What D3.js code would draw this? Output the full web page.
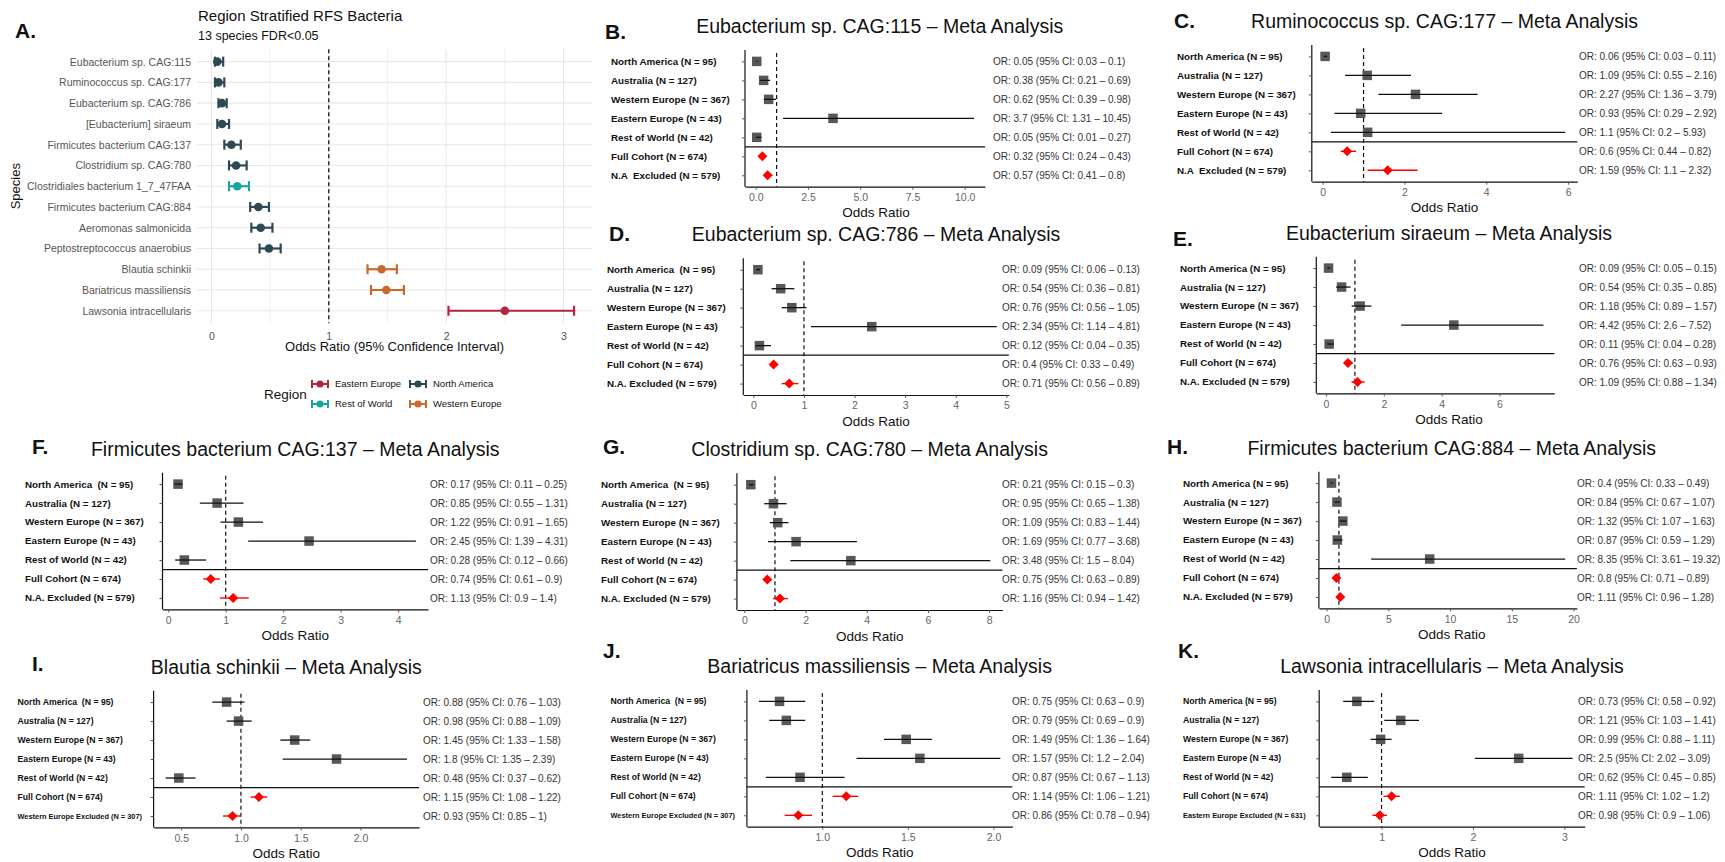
<!DOCTYPE html>
<html>
<head>
<meta charset="utf-8">
<script src="https://cdn.jsdelivr.net/npm/d3@7"></script>
<style>
body { margin: 0; background: #fff; }
svg { display: block; font-family: "Liberation Sans", Arial, sans-serif; }
.letter { font-weight: bold; font-size: 21px; fill: #111; }
.rowlab { font-weight: bold; fill: #111; white-space: pre; }
.ortxt { font-size: 10px; fill: #333; white-space: pre; }
</style>
</head>
<body>
<svg id="fig" width="1725" height="862"></svg>
<script>
// ---------- panel A data ----------
var speciesA = ["Eubacterium sp. CAG:115", "Ruminococcus sp. CAG:177", "Eubacterium sp. CAG:786",
  "[Eubacterium] siraeum", "Firmicutes bacterium CAG:137", "Clostridium sp. CAG:780",
  "Clostridiales bacterium 1_7_47FAA", "Firmicutes bacterium CAG:884", "Aeromonas salmonicida",
  "Peptostreptococcus anaerobius", "Blautia schinkii", "Bariatricus massiliensis", "Lawsonia intracellularis"];
var regionA = ["North America", "North America", "North America", "North America", "North America",
  "North America", "Rest of World", "North America", "North America", "North America",
  "Western Europe", "Western Europe", "Eastern Europe"];
var orA = [0.05, 0.06, 0.09, 0.09, 0.17, 0.21, 0.22, 0.40, 0.42, 0.49, 1.45, 1.49, 2.5];
var loA = [0.03, 0.03, 0.06, 0.05, 0.11, 0.15, 0.15, 0.33, 0.34, 0.41, 1.33, 1.36, 2.02];
var hiA = [0.10, 0.11, 0.13, 0.15, 0.25, 0.30, 0.32, 0.49, 0.52, 0.59, 1.58, 1.64, 3.09];
var ticksA = [0, 1, 2, 3];
var legendRegions = ["Eastern Europe", "North America", "Rest of World", "Western Europe"];

// region colours
var regionColours = {"Eastern Europe": "#b2243f", "North America": "#2d4953",
  "Rest of World": "#17a59e", "Western Europe": "#c8692d"};

// ---------- meta analysis panels ----------
var titleB = "Eubacterium sp. CAG:115 \u2013 Meta Analysis";
var rowsB = ["North America (N = 95)", "Australia (N = 127)", "Western Europe (N = 367)", "Eastern Europe (N = 43)",
  "Rest of World (N = 42)", "Full Cohort (N = 674)", "N.A  Excluded (N = 579)"];
var orB = [0.05, 0.38, 0.62, 3.7, 0.05, 0.32, 0.57];
var loB = [0.03, 0.21, 0.39, 1.31, 0.01, 0.24, 0.41];
var hiB = [0.1, 0.69, 0.98, 10.45, 0.27, 0.43, 0.8];
var ticksB = [0, 2.5, 5, 7.5, 10];

var titleC = "Ruminococcus sp. CAG:177 \u2013 Meta Analysis";
var rowsC = ["North America (N = 95)", "Australia (N = 127)", "Western Europe (N = 367)", "Eastern Europe (N = 43)",
  "Rest of World (N = 42)", "Full Cohort (N = 674)", "N.A  Excluded (N = 579)"];
var orC = [0.06, 1.09, 2.27, 0.93, 1.1, 0.6, 1.59];
var loC = [0.03, 0.55, 1.36, 0.29, 0.2, 0.44, 1.1];
var hiC = [0.11, 2.16, 3.79, 2.92, 5.93, 0.82, 2.32];
var ticksC = [0, 2, 4, 6];

var titleD = "Eubacterium sp. CAG:786 \u2013 Meta Analysis";
var rowsD = ["North America  (N = 95)", "Australia (N = 127)", "Western Europe (N = 367)", "Eastern Europe (N = 43)",
  "Rest of World (N = 42)", "Full Cohort (N = 674)", "N.A. Excluded (N = 579)"];
var orD = [0.09, 0.54, 0.76, 2.34, 0.12, 0.4, 0.71];
var loD = [0.06, 0.36, 0.56, 1.14, 0.04, 0.33, 0.56];
var hiD = [0.13, 0.81, 1.05, 4.81, 0.35, 0.49, 0.89];
var ticksD = [0, 1, 2, 3, 4, 5];

var titleE = "Eubacterium siraeum \u2013 Meta Analysis";
var rowsE = ["North America (N = 95)", "Australia (N = 127)", "Western Europe (N = 367)", "Eastern Europe (N = 43)",
  "Rest of World (N = 42)", "Full Cohort (N = 674)", "N.A. Excluded (N = 579)"];
var orE = [0.09, 0.54, 1.18, 4.42, 0.11, 0.76, 1.09];
var loE = [0.05, 0.35, 0.89, 2.6, 0.04, 0.63, 0.88];
var hiE = [0.15, 0.85, 1.57, 7.52, 0.28, 0.93, 1.34];
var ticksE = [0, 2, 4, 6];

var titleF = "Firmicutes bacterium CAG:137 \u2013 Meta Analysis";
var rowsF = ["North America  (N = 95)", "Australia (N = 127)", "Western Europe (N = 367)", "Eastern Europe (N = 43)",
  "Rest of World (N = 42)", "Full Cohort (N = 674)", "N.A. Excluded (N = 579)"];
var orF = [0.17, 0.85, 1.22, 2.45, 0.28, 0.74, 1.13];
var loF = [0.11, 0.55, 0.91, 1.39, 0.12, 0.61, 0.9];
var hiF = [0.25, 1.31, 1.65, 4.31, 0.66, 0.9, 1.4];
var ticksF = [0, 1, 2, 3, 4];

var titleG = "Clostridium sp. CAG:780 \u2013 Meta Analysis";
var rowsG = ["North America  (N = 95)", "Australia (N = 127)", "Western Europe (N = 367)", "Eastern Europe (N = 43)",
  "Rest of World (N = 42)", "Full Cohort (N = 674)", "N.A. Excluded (N = 579)"];
var orG = [0.21, 0.95, 1.09, 1.69, 3.48, 0.75, 1.16];
var loG = [0.15, 0.65, 0.83, 0.77, 1.5, 0.63, 0.94];
var hiG = [0.3, 1.38, 1.44, 3.68, 8.04, 0.89, 1.42];
var ticksG = [0, 2, 4, 6, 8];

var titleH = "Firmicutes bacterium CAG:884 \u2013 Meta Analysis";
var rowsH = ["North America (N = 95)", "Australia (N = 127)", "Western Europe (N = 367)", "Eastern Europe (N = 43)",
  "Rest of World (N = 42)", "Full Cohort (N = 674)", "N.A. Excluded (N = 579)"];
var orH = [0.4, 0.84, 1.32, 0.87, 8.35, 0.8, 1.11];
var loH = [0.33, 0.67, 1.07, 0.59, 3.61, 0.71, 0.96];
var hiH = [0.49, 1.07, 1.63, 1.29, 19.32, 0.89, 1.28];
var ticksH = [0, 5, 10, 15, 20];

var titleI = "Blautia schinkii \u2013 Meta Analysis";
var rowsI = ["North America  (N = 95)", "Australia (N = 127)", "Western Europe (N = 367)", "Eastern Europe (N = 43)",
  "Rest of World (N = 42)", "Full Cohort (N = 674)", "Western Europe Excluded (N = 307)"];
var orI = [0.88, 0.98, 1.45, 1.8, 0.48, 1.15, 0.93];
var loI = [0.76, 0.88, 1.33, 1.35, 0.37, 1.08, 0.85];
var hiI = [1.03, 1.09, 1.58, 2.39, 0.62, 1.22, 1];
var ticksI = [0.5, 1, 1.5, 2];

var titleJ = "Bariatricus massiliensis \u2013 Meta Analysis";
var rowsJ = ["North America  (N = 95)", "Australia (N = 127)", "Western Europe (N = 367)", "Eastern Europe (N = 43)",
  "Rest of World (N = 42)", "Full Cohort (N = 674)", "Western Europe Excluded (N = 307)"];
var orJ = [0.75, 0.79, 1.49, 1.57, 0.87, 1.14, 0.86];
var loJ = [0.63, 0.69, 1.36, 1.2, 0.67, 1.06, 0.78];
var hiJ = [0.9, 0.9, 1.64, 2.04, 1.13, 1.21, 0.94];
var ticksJ = [1, 1.5, 2];

var titleK = "Lawsonia intracellularis \u2013 Meta Analysis";
var rowsK = ["North America (N = 95)", "Australia (N = 127)", "Western Europe (N = 367)", "Eastern Europe (N = 43)",
  "Rest of World (N = 42)", "Full Cohort (N = 674)", "Eastern Europe Excluded (N = 631)"];
var orK = [0.73, 1.21, 0.99, 2.5, 0.62, 1.11, 0.98];
var loK = [0.58, 1.03, 0.88, 2.02, 0.45, 1.02, 0.9];
var hiK = [0.92, 1.41, 1.11, 3.09, 0.85, 1.2, 1.06];
var ticksK = [1, 2, 3];

// layout of every meta panel (positions in px)
var panels = [
  {id: "B", title: titleB, rows: rowsB, or: orB, lo: loB, hi: hiB, ticks: ticksB, fmt: ".1f",
   box: [592, 0, 1150, 220], letterX: 605, letterY: 39, left: 745, top: 50, width: 240, titleX: 879.7, axisX: 876,
   labelX: 611, labelSize: 9.8, lastSize: 9.8, orX: 993},
  {id: "C", title: titleC, rows: rowsC, or: orC, lo: loC, hi: hiC, ticks: ticksC, fmt: "d",
   box: [1150, 0, 1725, 220], letterX: 1174, letterY: 28, left: 1311.8, top: 45,
   labelX: 1177, labelSize: 9.8, lastSize: 9.8, orX: 1579},
  {id: "D", title: titleD, rows: rowsD, or: orD, lo: loD, hi: hiD, ticks: ticksD, fmt: "d",
   box: [592, 220, 1150, 435], letterX: 609, letterY: 241, left: 743.3, top: 258.3,
   labelX: 607, labelSize: 9.8, lastSize: 9.8, orX: 1002},
  {id: "E", title: titleE, rows: rowsE, or: orE, lo: loE, hi: hiE, ticks: ticksE, fmt: "d",
   box: [1150, 220, 1725, 435], letterX: 1173, letterY: 246, left: 1316.3, top: 256.7, width: 238, titleX: 1449, axisX: 1449,
   labelX: 1180, labelSize: 9.8, lastSize: 9.8, orX: 1579},
  {id: "F", title: titleF, rows: rowsF, or: orF, lo: loF, hi: hiF, ticks: ticksF, fmt: "d",
   box: [0, 435, 583, 641], letterX: 32, letterY: 454, left: 162.5, top: 472.7,
   labelX: 25, labelSize: 9.8, lastSize: 9.8, orX: 430},
  {id: "G", title: titleG, rows: rowsG, or: orG, lo: loG, hi: hiG, ticks: ticksG, fmt: "d",
   box: [583, 435, 1150, 641], letterX: 603, letterY: 454, left: 736.9, top: 473.3,
   labelX: 601, labelSize: 9.8, lastSize: 9.8, orX: 1002},
  {id: "H", title: titleH, rows: rowsH, or: orH, lo: loH, hi: hiH, ticks: ticksH, fmt: "d",
   box: [1150, 435, 1725, 641], letterX: 1167, letterY: 454, left: 1318.9, top: 471.7, width: 258, titleX: 1451.7, axisX: 1451.7,
   labelX: 1183, labelSize: 9.8, lastSize: 9.8, orX: 1577},
  {id: "I", title: titleI, rows: rowsI, or: orI, lo: loI, hi: hiI, ticks: ticksI, fmt: ".1f",
   box: [0, 641, 583, 862], letterX: 32, letterY: 671, left: 153.6, top: 690.7,
   labelX: 17.5, labelSize: 8.7, lastSize: 7.4, orX: 423},
  {id: "J", title: titleJ, rows: rowsJ, or: orJ, lo: loJ, hi: hiJ, ticks: ticksJ, fmt: ".1f",
   box: [583, 641, 1150, 862], letterX: 603, letterY: 658, left: 746.9, top: 690,
   labelX: 610.5, labelSize: 8.7, lastSize: 7.4, orX: 1012},
  {id: "K", title: titleK, rows: rowsK, or: orK, lo: loK, hi: hiK, ticks: ticksK, fmt: "d",
   box: [1150, 641, 1725, 862], letterX: 1178, letterY: 658, left: 1319.2, top: 690,
   labelX: 1183, labelSize: 8.7, lastSize: 7.4, orX: 1578}
];

var plotW = 265.5, plotH = 136.7;
var svg = d3.select("#fig");
var defs = svg.append("defs");

// group clipped to one panel cell
function cell(id, box) {
  defs.append("clipPath").attr("id", "clip" + id)
    .append("rect")
      .attr("x", box[0]).attr("y", box[1])
      .attr("width", box[2] - box[0]).attr("height", box[3] - box[1]);
  return svg.append("g").attr("clip-path", "url(#clip" + id + ")");
}

// ggplot-like 5% expansion of the data range (incl. the line at 1)
function expanded(lo, hi) {
  var all = lo.concat(hi, [1]);
  var mn = d3.min(all), mx = d3.max(all), pad = (mx - mn) * 0.05;
  return [mn - pad, mx + pad];
}

function orText(o, l, h) {
  return "OR: " + o + " (95% CI: " + l + " \u2013 " + h + ")";
}

// ---------- panel A ----------
function drawPanelA() {
  var g = cell("A", [0, 0, 592, 435]);
  var left = 197, right = 592, top = 49.2, bottom = 323.2;
  var x = d3.scaleLinear().domain(expanded(loA, hiA)).range([left, right]);
  var y = d3.scalePoint().domain(speciesA).range([top, bottom]).padding(0.6);

  g.append("text").attr("class", "letter").attr("x", 15).attr("y", 38).text("A.");
  g.append("text").attr("x", 198).attr("y", 21).style("font-size", "15px").style("fill", "#111")
    .text("Region Stratified RFS Bacteria");
  g.append("text").attr("x", 198).attr("y", 40).style("font-size", "12.5px").style("fill", "#111")
    .text("13 species FDR<0.05");

  // grid
  var minor = [0.5, 1.5, 2.5, 3.5].filter(function(v) { return v < x.domain()[1]; });
  g.selectAll(".gminor").data(minor).enter().append("line")
    .attr("x1", x).attr("x2", x).attr("y1", top).attr("y2", bottom)
    .attr("stroke", "#ededed").attr("stroke-width", 0.8);
  g.selectAll(".gmajor").data(ticksA).enter().append("line")
    .attr("x1", x).attr("x2", x).attr("y1", top).attr("y2", bottom)
    .attr("stroke", "#e8e8e8").attr("stroke-width", 1.1);
  g.selectAll(".grow").data(speciesA).enter().append("line")
    .attr("x1", left).attr("x2", right).attr("y1", y).attr("y2", y)
    .attr("stroke", "#e8e8e8").attr("stroke-width", 1.1);

  // reference line
  g.append("line").attr("x1", x(1)).attr("x2", x(1)).attr("y1", top).attr("y2", bottom)
    .attr("stroke", "#222").attr("stroke-width", 1.4).attr("stroke-dasharray", "4,3");

  // axes text
  var xa = g.append("g").attr("transform", "translate(0," + bottom + ")")
    .call(d3.axisBottom(x).tickValues(ticksA).tickFormat(d3.format("d")).tickSize(0).tickPadding(9));
  xa.select(".domain").remove();
  xa.selectAll("text").style("font-size", "10.5px").style("fill", "#555")
    .style("font-family", "Liberation Sans, Arial, sans-serif");

  var ya = g.append("g").attr("transform", "translate(" + left + ",0)")
    .call(d3.axisLeft(y).tickSize(0).tickPadding(6));
  ya.select(".domain").remove();
  ya.selectAll("text").style("font-size", "10.5px").style("fill", "#555")
    .style("font-family", "Liberation Sans, Arial, sans-serif");

  g.append("text").attr("x", (left + right) / 2).attr("y", 351).attr("text-anchor", "middle")
    .style("font-size", "13px").style("fill", "#111").text("Odds Ratio (95% Confidence Interval)");
  g.append("text").attr("transform", "translate(20," + ((top + bottom) / 2) + ") rotate(-90)")
    .attr("text-anchor", "middle").style("font-size", "13px").style("fill", "#111").text("Species");

  // error bars + points
  var idx = d3.range(speciesA.length);
  var bars = g.selectAll(".eb").data(idx).enter().append("g")
    .attr("stroke", function(i) { return regionColours[regionA[i]]; })
    .attr("stroke-width", 2.2);
  bars.append("line")
    .attr("x1", function(i) { return x(loA[i]); }).attr("x2", function(i) { return x(hiA[i]); })
    .attr("y1", function(i) { return y(speciesA[i]); }).attr("y2", function(i) { return y(speciesA[i]); });
  bars.append("line")
    .attr("x1", function(i) { return x(loA[i]); }).attr("x2", function(i) { return x(loA[i]); })
    .attr("y1", function(i) { return y(speciesA[i]) - 5; }).attr("y2", function(i) { return y(speciesA[i]) + 5; });
  bars.append("line")
    .attr("x1", function(i) { return x(hiA[i]); }).attr("x2", function(i) { return x(hiA[i]); })
    .attr("y1", function(i) { return y(speciesA[i]) - 5; }).attr("y2", function(i) { return y(speciesA[i]) + 5; });
  g.selectAll(".pt").data(idx).enter().append("circle")
    .attr("cx", function(i) { return x(orA[i]); }).attr("cy", function(i) { return y(speciesA[i]); })
    .attr("r", 4.3).attr("fill", function(i) { return regionColours[regionA[i]]; });

  // legend, two columns
  g.append("text").attr("x", 264).attr("y", 399).style("font-size", "13.5px").style("fill", "#111").text("Region");
  legendRegions.forEach(function(name, i) {
    var col = i < 2 ? i : i - 2;
    var row = i < 2 ? 0 : 1;
    var kx = col === 0 ? 320 : 418, ky = row === 0 ? 384 : 404;
    var c = regionColours[name];
    var k = g.append("g").attr("stroke", c).attr("stroke-width", 2);
    k.append("line").attr("x1", kx - 8).attr("x2", kx + 8).attr("y1", ky).attr("y2", ky);
    k.append("line").attr("x1", kx - 8).attr("x2", kx - 8).attr("y1", ky - 4).attr("y2", ky + 4);
    k.append("line").attr("x1", kx + 8).attr("x2", kx + 8).attr("y1", ky - 4).attr("y2", ky + 4);
    g.append("circle").attr("cx", kx).attr("cy", ky).attr("r", 3.6).attr("fill", c);
    g.append("text").attr("x", kx + 15).attr("y", ky).attr("dy", "0.35em")
      .style("font-size", "9.5px").style("fill", "#111").text(name);
  });
}

// ---------- meta analysis forest plot ----------
function drawMeta(p) {
  var g = cell(p.id, p.box);
  var w = p.width || plotW;
  var right = p.left + w, bottom = p.top + plotH;
  var x = d3.scaleLinear().domain(expanded(p.lo, p.hi)).range([p.left, right]);
  var y = d3.scalePoint().domain(d3.range(p.rows.length)).range([p.top, bottom]).padding(0.6);
  var cx = (p.left + right) / 2;

  g.append("text").attr("class", "letter").attr("x", p.letterX).attr("y", p.letterY).text(p.id + ".");
  g.append("text").attr("x", p.titleX || cx).attr("y", p.top - 17).attr("text-anchor", "middle")
    .style("font-size", "19.5px").style("fill", "#111").text(p.title);

  // axes
  var xa = g.append("g").attr("transform", "translate(0," + bottom + ")")
    .call(d3.axisBottom(x).tickValues(p.ticks).tickFormat(d3.format(p.fmt)).tickSize(3).tickSizeOuter(0).tickPadding(4));
  xa.selectAll("text").style("font-size", "10.5px").style("fill", "#666")
    .style("font-family", "Liberation Sans, Arial, sans-serif");
  xa.selectAll(".tick line").attr("stroke", "#555");
  xa.select(".domain").attr("stroke", "#111").attr("stroke-width", 1.2);

  var ya = g.append("g").attr("transform", "translate(" + p.left + ",0)")
    .call(d3.axisLeft(y).tickFormat("").tickSize(3).tickSizeOuter(0));
  ya.selectAll(".tick line").attr("stroke", "#555");
  ya.select(".domain").attr("stroke", "#111").attr("stroke-width", 1.2)
    .attr("d", "M0," + p.top + "V" + bottom);

  g.append("text").attr("x", p.axisX || cx).attr("y", bottom + 30.5).attr("text-anchor", "middle")
    .style("font-size", "13.5px").style("fill", "#111").text("Odds Ratio");

  // reference line at OR = 1 and the separator above the pooled rows
  g.append("line").attr("x1", x(1)).attr("x2", x(1)).attr("y1", p.top + 3).attr("y2", bottom)
    .attr("stroke", "#111").attr("stroke-width", 1.2).attr("stroke-dasharray", "4,3");
  var sepY = (y(4) + y(5)) / 2;
  g.append("line").attr("x1", p.left).attr("x2", right).attr("y1", sepY).attr("y2", sepY)
    .attr("stroke", "#111").attr("stroke-width", 1.2);

  var idx = d3.range(p.rows.length);
  var studies = idx.filter(function(i) { return i < 5; });
  var pooled = idx.filter(function(i) { return i >= 5; });

  g.selectAll(".sq").data(studies).enter().append("rect")
    .attr("x", function(i) { return x(p.or[i]) - 4.75; })
    .attr("y", function(i) { return y(i) - 4.75; })
    .attr("width", 9.5).attr("height", 9.5).attr("fill", "#585858");
  g.selectAll(".ci").data(studies).enter().append("line")
    .attr("x1", function(i) { return x(p.lo[i]); }).attr("x2", function(i) { return x(p.hi[i]); })
    .attr("y1", function(i) { return y(i); }).attr("y2", function(i) { return y(i); })
    .attr("stroke", "#111").attr("stroke-width", 1.3);

  g.selectAll(".pci").data(pooled).enter().append("line")
    .attr("x1", function(i) { return x(p.lo[i]); }).attr("x2", function(i) { return x(p.hi[i]); })
    .attr("y1", function(i) { return y(i); }).attr("y2", function(i) { return y(i); })
    .attr("stroke", "#ff0000").attr("stroke-width", 1.4);
  g.selectAll(".dm").data(pooled).enter().append("path")
    .attr("d", function(i) {
      var px = x(p.or[i]), py = y(i);
      return "M" + (px - 5) + "," + py + "L" + px + "," + (py - 5) + "L" + (px + 5) + "," + py + "L" + px + "," + (py + 5) + "Z";
    })
    .attr("fill", "#ff0000");

  // row labels and OR text
  g.selectAll(".rl").data(idx).enter().append("text")
    .attr("class", "rowlab")
    .attr("x", p.labelX).attr("y", function(i) { return y(i); }).attr("dy", "0.35em")
    .style("font-size", function(i) { return (i === 6 ? p.lastSize : p.labelSize) + "px"; })
    .text(function(i) { return p.rows[i]; });
  g.selectAll(".ot").data(idx).enter().append("text")
    .attr("class", "ortxt")
    .attr("x", p.orX).attr("y", function(i) { return y(i); }).attr("dy", "0.35em")
    .text(function(i) { return orText(p.or[i], p.lo[i], p.hi[i]); });
}

drawPanelA();
panels.forEach(drawMeta);
</script>
</body>
</html>
